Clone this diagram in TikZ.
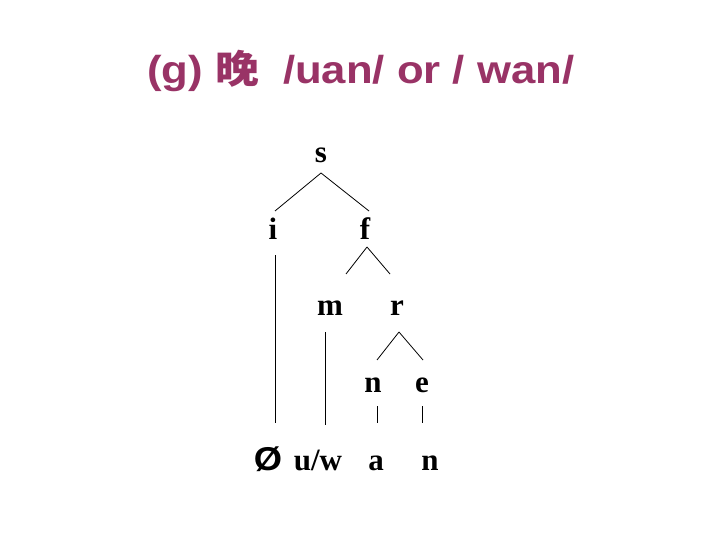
\documentclass[tikz,border=0pt]{standalone}
\usepackage{fontspec}
\setmainfont{Liberation Serif}
\newfontfamily\titlefont[FakeStretch=1.12]{Liberation Sans}
\newfontfamily\titlecjk[FakeStretch=1.12]{Noto Sans CJK SC}
\newfontfamily\slashfont[FakeStretch=1.1]{Liberation Sans}
\usetikzlibrary{calc}
\definecolor{titlepurple}{RGB}{153,51,102}

\begin{document}
\begin{tikzpicture}[x=1pt,y=-1pt,
  seg/.style={font=\fontsize{31}{36}\selectfont\bfseries,anchor=base,inner sep=0pt},
  branch/.style={line width=0.8pt}]
\useasboundingbox (0,0) rectangle (720,540);
\node[anchor=base west,inner sep=0pt,text=titlepurple,font=\titlefont\fontsize{39}{44}\selectfont\bfseries] (title) at (147,84) {(g) {\titlecjk 晚}\ \ /uan/ or / wan/};

% syllable tree
\node[seg] (s) at (321,163) {s};
\node[seg] (i) at (273,240) {i};
\node[seg] (f) at (365,240) {f};
\node[seg] (m) at (330,315) {m};
\node[seg] (r) at (397,315) {r};
\node[seg] (n) at (373,392) {n};
\node[seg] (e) at (422,392) {e};

% segments
\node[seg,font=\slashfont\fontsize{33}{38}\selectfont\bfseries] (zero) at (268,470) {Ø};
\node[seg] (uw) at (318,470) {u/w};
\node[seg] (a) at (376,470) {a};
\node[seg] (coda) at (430,470) {n};

\draw[branch] ($(s.base)+(0,10)$) -- ($(i.base)+(2,-29)$);
\draw[branch] ($(s.base)+(0,10)$) -- ($(f.base)+(4,-29)$);
\draw[branch] ($(f.base)+(2,7)$) -- ($(m.base)+(16,-41)$);
\draw[branch] ($(f.base)+(2,7)$) -- ($(r.base)+(-7,-41)$);
\draw[branch] ($(r.base)+(2,17)$) -- ($(n.base)+(4,-32)$);
\draw[branch] ($(r.base)+(2,17)$) -- ($(e.base)+(1,-32)$);

\draw[branch] ($(i.base)+(2,15)$) -- ($(zero.base)+(7,-47)$);
\draw[branch] ($(m.base)+(-5,17)$) -- ($(uw.base)+(7,-45)$);
\draw[branch] ($(n.base)+(4,14)$) -- ($(a.base)+(1,-47)$);
\draw[branch] ($(e.base)+(0,14)$) -- ($(coda.base)+(-8,-47)$);
\end{tikzpicture}
\end{document}
